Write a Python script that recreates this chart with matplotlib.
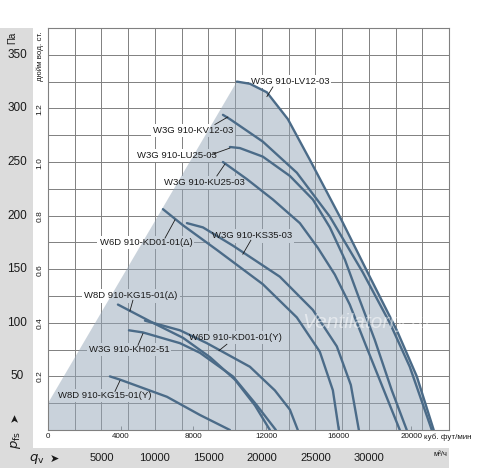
import matplotlib
matplotlib.use("Agg")
import matplotlib.pyplot as plt
import matplotlib.transforms as mtransforms
from matplotlib.patches import Rectangle

plt.rcParams['font.family'] = ['Liberation Sans', 'DejaVu Sans']

W, H = 500, 468
CURVE_COLOR = '#4b6b88'
GRID_COLOR = '#808080'
TEXT_COLOR = '#1a1a1a'

PA_PER_INWG = 249.09
M3H_PER_CFM = 1.699

# fan curves, airflow in m3/h, static pressure in Pa
lv12_q = [17660, 18880, 20470, 22430, 24490, 27290, 30090, 32620, 34490, 36070]
lv12_p = [325, 323, 315, 290, 252, 199, 143, 93, 50, 0]
kv12_q = [16360, 17010, 20090, 23270, 26360, 29440, 31960, 33830, 35890]
kv12_p = [294, 290, 269, 240, 199, 147, 100, 59, 0]
lu25_q = [17010, 17940, 20090, 22620, 24770, 26360, 27760, 29160, 30560, 32150, 33550]
lu25_p = [264, 263, 255, 237, 215, 189, 159, 121, 84, 37, 0]
ku25_q = [16360, 18600, 21030, 23550, 25230, 26820, 28220, 29720, 31210, 32900]
ku25_p = [250, 234, 215, 193, 170, 145, 117, 79, 42, 0]
ks35_q = [12990, 14490, 17290, 21680, 24770, 27010, 28320, 29070]
ks35_p = [193, 189, 172, 143, 112, 78, 42, 0]
kd01d_q = [10750, 12620, 15790, 20090, 23270, 25420, 26640, 27200]
kd01d_p = [206, 191, 168, 136, 105, 73, 37, 0]
kg15d_q = [6540, 9810, 12620, 15140, 17480, 19350, 20750]
kg15d_p = [117, 100, 86, 68, 47, 23, 0]
kh02_q = [7570, 8880, 12340, 14210, 17290, 19530, 21310]
kh02_p = [93, 91, 81, 72, 50, 23, 0]
kd01y_q = [9070, 12340, 14860, 18880, 21210, 22620, 23360]
kd01y_p = [102, 93, 81, 59, 37, 19, 0]
kg15y_q = [5790, 6730, 11120, 14210, 17010]
kg15y_p = [50, 47, 31, 14, 0]

curves = [
    (lv12_q, lv12_p), (kv12_q, kv12_p), (lu25_q, lu25_p), (ku25_q, ku25_p),
    (ks35_q, ks35_p), (kd01d_q, kd01d_p), (kg15d_q, kg15d_p), (kh02_q, kh02_p),
    (kd01y_q, kd01y_p), (kg15y_q, kg15y_p),
]

fan_names = [
    'W3G 910-LV12-03', 'W3G 910-KV12-03', 'W3G 910-LU25-03', 'W3G 910-KU25-03',
    'W3G 910-KS35-03', 'W6D 910-KD01-01(Δ)', 'W8D 910-KG15-01(Δ)', 'W3G 910-KH02-51',
    'W6D 910-KD01-01(Y)', 'W8D 910-KG15-01(Y)',
]

# label centre, leader start, leader end (m3/h, Pa)
label_pos = [
    ((22620, 325), (21030, 320), (20470, 311)),
    ((13550, 279), (15610, 285), (16820, 292)),
    ((12060, 256), (15330, 257), (17010, 263)),
    ((14670, 231), (15790, 237), (16540, 248)),
    ((19070, 181), (18970, 177), (18220, 164)),
    ((9160, 175), (10940, 179), (11870, 196)),
    ((7760, 125), (7940, 121), (7660, 111)),
    ((7570, 75), (8410, 79), (8880, 90)),
    ((17570, 86), (16730, 80), (15980, 74)),
    ((5330, 32), (6260, 36), (6730, 46)),
]

pa_ticks = [50, 100, 150, 200, 250, 300, 350]
inwg_ticks = [0.2, 0.4, 0.6, 0.8, 1.0, 1.2]
m3h_ticks = [5000, 10000, 15000, 20000, 25000, 30000]
cfm_ticks = [0, 4000, 8000, 12000, 16000, 20000]

X_MAX = 37500
Y_MAX = 375


def fx(px):
    return px / float(W)


def fy(py):
    return 1 - py / float(H)


fig = plt.figure(figsize=(W / 100.0, H / 100.0), dpi=100)
fig.patch.set_facecolor('white')

# grey L-shaped band for the SI scales
fig.patches.append(Rectangle((0, 0), fx(33), fy(28),
                             transform=fig.transFigure, facecolor='#dcdcdc',
                             edgecolor='none', zorder=-1))
fig.patches.append(Rectangle((0, 0), fx(449), fy(448),
                             transform=fig.transFigure, facecolor='#dcdcdc',
                             edgecolor='none', zorder=-1))

ax = fig.add_axes([fx(48), fy(430), fx(449) - fx(48), fy(28) - fy(430)])
ax.set_xlim(0, X_MAX)
ax.set_ylim(0, Y_MAX)
ax.set_xticks(range(0, X_MAX + 1, 2500))
ax.set_yticks(range(0, Y_MAX + 1, 25))
ax.set_xticks([v * M3H_PER_CFM for v in cfm_ticks], minor=True)
ax.grid(True, color=GRID_COLOR, linewidth=0.7)
ax.set_axisbelow(True)
ax.tick_params(length=0, labelbottom=False, labelleft=False)
ax.tick_params(axis='x', which='minor', direction='in', length=3,
               width=0.7, color=GRID_COLOR)
for spine in ax.spines.values():
    spine.set_color(GRID_COLOR)
    spine.set_linewidth(0.8)

# operating area, translucent so the grid shows through it
area_q = [0, 0] + lv12_q
area_p = [0, 25] + lv12_p
ax.fill(area_q, area_p, color='#95a7b9', alpha=0.5, edgecolor='none', zorder=2)

for q, p in curves:
    ax.plot(q, p, color=CURVE_COLOR, linewidth=1.7, zorder=3,
            solid_capstyle='round', solid_joinstyle='round')

for name, (centre, lead0, lead1) in zip(fan_names, label_pos):
    # hidden copy only carries a white box that breaks the grid lines
    ax.text(centre[0], centre[1], name, fontsize=6.8, color=(0, 0, 0, 0),
            ha='center', va='center', zorder=1,
            bbox=dict(facecolor='white', edgecolor='none', pad=1.5))
    ax.text(centre[0], centre[1], name, fontsize=6.8, color=TEXT_COLOR,
            ha='center', va='center', zorder=4)
    ax.plot([lead0[0], lead1[0]], [lead0[1], lead1[1]], color=TEXT_COLOR,
            linewidth=0.6, zorder=3)

ax.text(29700, 100, 'Ventilatorry.ru', fontsize=15, style='italic',
        color='white', alpha=0.5, ha='center', va='center', zorder=3.5)

# left scales
yfig = mtransforms.blended_transform_factory(fig.transFigure, ax.transData)
for v in pa_ticks:
    fig.text(fx(17), v, str(v), transform=yfig, fontsize=8.5, color=TEXT_COLOR,
             ha='center', va='center')
for v in inwg_ticks:
    fig.text(fx(40), v * PA_PER_INWG, '%.1f' % v, transform=yfig, fontsize=6,
             color=TEXT_COLOR, rotation=90, ha='center', va='center')
fig.text(fx(12), fy(38), 'Па', fontsize=7, rotation=90, color=TEXT_COLOR,
         ha='center', va='center')
fig.text(fx(40), fy(56), 'дюйм вод. ст.', fontsize=5.8, rotation=90,
         color=TEXT_COLOR, ha='center', va='center')
fig.text(fx(15), fy(417), '➤', fontsize=8, rotation=90, color=TEXT_COLOR,
         family=['DejaVu Sans'], ha='center', va='center')
fig.text(fx(16), fy(440), r'$p_{\mathrm{fs}}$', fontsize=9.5, rotation=90,
         color=TEXT_COLOR, ha='center', va='center')

# bottom scales
xfig = mtransforms.blended_transform_factory(ax.transData, fig.transFigure)
for v in cfm_ticks:
    fig.text(v * M3H_PER_CFM, fy(437), str(v), transform=xfig, fontsize=5.8,
             color=TEXT_COLOR, ha='center', va='center')
for v in m3h_ticks:
    fig.text(v, fy(458), str(v), transform=xfig, fontsize=8, color=TEXT_COLOR,
             ha='center', va='center')
fig.text(fx(424), fy(437), 'куб. фут/мин', fontsize=5.8, color=TEXT_COLOR,
         ha='left', va='center')
fig.text(fx(440), fy(454), 'м³/ч', fontsize=5.5, color=TEXT_COLOR,
         ha='center', va='center')
fig.text(fx(37), fy(459), r'$q_{\mathrm{v}}$', fontsize=9.5, color=TEXT_COLOR,
         ha='center', va='center')
fig.text(fx(54), fy(459), '➤', fontsize=8, color=TEXT_COLOR,
         family=['DejaVu Sans'], ha='center', va='center')

fig.savefig('out.png', dpi=100)
